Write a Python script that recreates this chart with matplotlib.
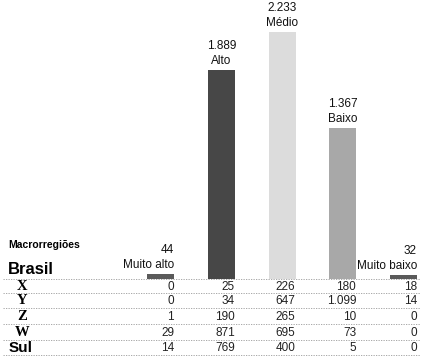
import matplotlib
matplotlib.use("Agg")
import matplotlib.pyplot as plt
from matplotlib import font_manager

# ─────────────────────────────────────
# DATA
# ─────────────────────────────────────
categories = ["Muito alto", "Alto", "Médio", "Baixo", "Muito baixo"]
brasil = [44, 1889, 2233, 1367, 32]
regions = ["X", "Y", "Z", "W", "Sul"]
region_values = [
    [0, 25, 226, 180, 18],
    [0, 34, 647, 1099, 14],
    [1, 190, 265, 10, 0],
    [29, 871, 695, 73, 0],
    [14, 769, 400, 5, 0],
]
bar_colors = ["#5a5a5a", "#474747", "#dcdcdc", "#a8a8a8", "#5a5a5a"]
label_align = ["right", "center", "center", "center", "right"]

# ─────────────────────────────────────
# FONTS
# ─────────────────────────────────────
fonts = {f.name for f in font_manager.fontManager.ttflist}
NARROW = "Liberation Sans Narrow" if "Liberation Sans Narrow" in fonts else "Liberation Sans"
SANS = "Liberation Sans"
SERIF = "Liberation Serif"


def fmt(v):
    return f"{v:,}".replace(",", ".")


W, H = 427, 358
fig = plt.figure(figsize=(W / 100, H / 100), dpi=100)
ax = fig.add_axes([0, 0, 1, 1])
ax.set_axis_off()

# pixel layout -> data limits
x0_px, step_px = 160.5, 60.75
base_px, scale = 279, 0.1106
ax.set_xlim(-x0_px / step_px, (W - x0_px) / step_px)
ax.set_ylim(-(H - base_px) / scale, base_px / scale)

xs = list(range(len(categories)))
width = 27 / step_px
ax.bar(xs, brasil, width=width, color=bar_colors, linewidth=0)

for x, v, name, ha in zip(xs, brasil, categories, label_align):
    xr = x + width / 2 if ha == "right" else x
    ax.annotate(name, (xr, v), xytext=(0, 9), textcoords="offset pixels",
                ha=ha, va="center", fontsize=8.5, color="#111111", family=NARROW)
    ax.annotate(fmt(v), (xr, v), xytext=(0, 24), textcoords="offset pixels",
                ha=ha, va="center", fontsize=8.5, color="#111111", family=NARROW)


def fy(px):
    return 1 - px / H


fig.text(8 / W, fy(245), "Macrorregiões", fontsize=7.5, fontweight="bold",
         family=SANS, va="center", ha="left")
fig.text(8 / W, fy(270), "Brasil", fontsize=12, fontweight="bold",
         family=SANS, va="center", ha="left")

row_y = [287, 301, 317, 333, 348]
for r, (name, vals) in enumerate(zip(regions, region_values)):
    if name == "Sul":
        fig.text(9 / W, fy(row_y[r]), name, fontsize=11, fontweight="bold",
                 family=SANS, va="center", ha="left")
    else:
        fig.text(22 / W, fy(row_y[r]), name, fontsize=10.5, fontweight="bold",
                 family=SERIF, va="center", ha="center")
    for x, v in zip(xs, vals):
        ax.text(x + width / 2, -(row_y[r] - base_px) / scale, fmt(v),
                ha="right", va="center", fontsize=8.5, color="#222222", family=NARROW)

for py in [279, 293, 308, 324, 340, 355]:
    fig.add_artist(plt.Line2D([3 / W, 420 / W], [fy(py), fy(py)],
                              color="#9a9a9a", linewidth=0.6, linestyle=(0, (1.5, 1.5))))

fig.savefig("out.png", dpi=100)
